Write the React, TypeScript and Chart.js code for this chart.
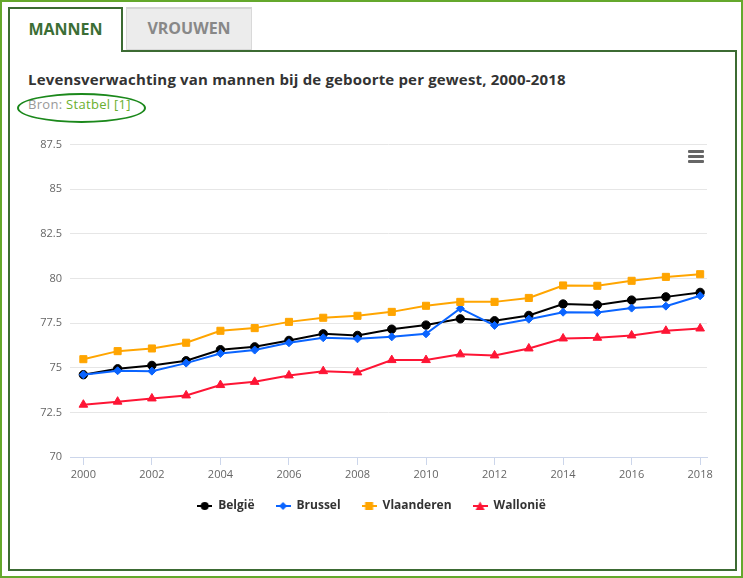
import React, { useEffect, useRef } from "react";
import { Chart, registerables } from "chart.js";

Chart.register(...registerables);

const years = [2000, 2001, 2002, 2003, 2004, 2005, 2006, 2007, 2008, 2009, 2010, 2011, 2012, 2013, 2014, 2015, 2016, 2017, 2018];
const xTickYears = [2000, 2002, 2004, 2006, 2008, 2010, 2012, 2014, 2016, 2018];
const belgie = [74.61, 74.94, 75.13, 75.39, 76.01, 76.17, 76.53, 76.9, 76.81, 77.16, 77.39, 77.74, 77.63, 77.93, 78.57, 78.52, 78.79, 78.97, 79.22];
const brussel = [74.61, 74.83, 74.81, 75.26, 75.8, 75.99, 76.4, 76.68, 76.62, 76.73, 76.9, 78.32, 77.37, 77.72, 78.11, 78.1, 78.34, 78.45, 79.03];
const vlaanderen = [75.48, 75.93, 76.08, 76.4, 77.07, 77.22, 77.57, 77.8, 77.91, 78.13, 78.47, 78.69, 78.69, 78.91, 79.61, 79.59, 79.87, 80.09, 80.24];
const wallonie = [72.93, 73.1, 73.28, 73.45, 74.03, 74.21, 74.57, 74.81, 74.74, 75.43, 75.43, 75.75, 75.69, 76.08, 76.64, 76.68, 76.81, 77.07, 77.2];
const seriesNames = ["België", "Brussel", "Vlaanderen", "Wallonië"];
const seriesColors = ["#000000", "#0a64ff", "#ffa500", "#fe1535"];
const seriesStyles = ["circle", "rectRot", "rect", "triangle"];
const seriesRadius = [4.2, 4, 5, 5];

const DARK = "#3c6b33";
const FONT = "'Open Sans', sans-serif";

function makeIcon(color: string, style: string): HTMLCanvasElement {
  const c = document.createElement("canvas");
  c.width = 15;
  c.height = 12;
  const ctx = c.getContext("2d")!;
  ctx.strokeStyle = color;
  ctx.fillStyle = color;
  ctx.lineWidth = 2;
  ctx.beginPath();
  ctx.moveTo(0, 6);
  ctx.lineTo(15, 6);
  ctx.stroke();
  ctx.beginPath();
  if (style === "circle") {
    ctx.arc(7.5, 6, 4, 0, Math.PI * 2);
  } else if (style === "rectRot") {
    ctx.moveTo(7.5, 2);
    ctx.lineTo(11.5, 6);
    ctx.lineTo(7.5, 10);
    ctx.lineTo(3.5, 6);
    ctx.closePath();
  } else if (style === "rect") {
    ctx.rect(3.5, 2, 8, 8);
  } else {
    ctx.moveTo(7.5, 1.5);
    ctx.lineTo(12, 10);
    ctx.lineTo(3, 10);
    ctx.closePath();
  }
  ctx.fill();
  return c;
}

export default function App() {
  const ref = useRef<HTMLCanvasElement | null>(null);

  useEffect(() => {
    if (!ref.current) return;
    const values = [belgie, brussel, vlaanderen, wallonie];
    const icons = seriesColors.map((c, i) => makeIcon(c, seriesStyles[i]));
    const chart = new Chart(ref.current, {
      type: "line",
      data: {
        datasets: values.map((vals, i) => ({
          label: seriesNames[i],
          data: years.map((y, j) => ({ x: y, y: vals[j] })),
          borderColor: seriesColors[i],
          backgroundColor: seriesColors[i],
          pointBackgroundColor: seriesColors[i],
          pointBorderColor: seriesColors[i],
          pointBorderWidth: 1,
          pointStyle: seriesStyles[i] as any,
          pointRadius: seriesRadius[i],
          borderWidth: 2,
          tension: 0,
          fill: false,
          order: 3 - i,
        })),
      },
      options: {
        animation: false,
        responsive: false,
        layout: { padding: { top: 14, left: 0, right: 0, bottom: 0 } },
        plugins: {
          tooltip: { enabled: false },
          legend: {
            position: "bottom",
            maxHeight: 33,
            labels: {
              usePointStyle: true,
              pointStyleWidth: 15,
              padding: 21,
              color: "#333333",
              font: { family: FONT, size: 12, weight: "bold" },
              generateLabels: (ch: any) => {
                const base = Chart.defaults.plugins.legend.labels.generateLabels(ch);
                return base
                  .sort((a: any, b: any) => a.datasetIndex - b.datasetIndex)
                  .map((l: any) => ({ ...l, pointStyle: icons[l.datasetIndex], lineWidth: 0 }));
              },
            },
          },
        },
        scales: {
          x: {
            type: "linear",
            min: 1999.61,
            max: 2018.2,
            afterBuildTicks: (s: any) => {
              s.ticks = xTickYears.map((v) => ({ value: v }));
            },
            afterFit: (s: any) => {
              s.height = 22;
              s.paddingRight = 36;
            },
            ticks: {
              autoSkip: false,
              maxRotation: 0,
              padding: 3,
              color: "#666666",
              font: { family: FONT, size: 11 },
              callback: (v: any) => String(v),
            },
            grid: {
              display: true,
              drawOnChartArea: false,
              drawTicks: true,
              tickLength: 8,
              color: "#ccd6eb",
              lineWidth: 1,
            },
            border: { display: true, color: "#ccd6eb", width: 1 },
          },
          y: {
            min: 70,
            max: 87.5,
            afterFit: (s: any) => {
              s.width = 70;
            },
            ticks: {
              stepSize: 2.5,
              padding: 8,
              color: "#666666",
              font: { family: FONT, size: 11 },
              callback: (v: any) => String(v),
            },
            grid: { color: "#e6e6e6", drawTicks: false, lineWidth: 1 },
            border: { display: false },
          },
        },
      },
    });
    return () => chart.destroy();
  }, []);

  const abs = (s: React.CSSProperties): React.CSSProperties => ({ position: "absolute", boxSizing: "border-box", ...s });

  return (
    <div style={{ position: "fixed", left: 0, top: 0, width: 743, height: 578, background: "#fff", fontFamily: FONT }}>
      <div style={abs({ left: 0, top: 0, width: 743, height: 578, border: "2px solid #64a82c" })} />
      <div style={abs({ left: 8, top: 50, width: 729, height: 521, border: `2px solid ${DARK}` })} />
      <div
        style={abs({
          left: 8, top: 7, width: 115, height: 45, background: "#fff",
          borderTop: `2px solid ${DARK}`, borderLeft: `2px solid ${DARK}`, borderRight: `2px solid ${DARK}`,
          display: "flex", alignItems: "center", justifyContent: "center", paddingBottom: 3,
          color: "#3b6e35", fontWeight: 700, fontSize: 16,
        })}
      >
        MANNEN
      </div>
      <div
        style={abs({
          left: 126, top: 7, width: 126, height: 43, background: "#ececec",
          border: "1px solid #d9d9d9", borderTop: "2px solid #d4d4d4",
          display: "flex", alignItems: "center", justifyContent: "center", paddingBottom: 2,
          color: "#888888", fontWeight: 700, fontSize: 16,
        })}
      >
        VROUWEN
      </div>
      <div style={abs({ left: 28, top: 69, fontSize: 15, letterSpacing: 0.17, fontWeight: 700, color: "#333", lineHeight: "20px", whiteSpace: "nowrap" })}>
        Levensverwachting van mannen bij de geboorte per gewest, 2000-2018
      </div>
      <div style={abs({ left: 28, top: 95, fontSize: 13, letterSpacing: 0.3, color: "#999", lineHeight: "18px", whiteSpace: "nowrap" })}>
        Bron: <span style={{ color: "#6aaf2e" }}>Statbel [1]</span>
      </div>
      <div style={abs({ left: 17, top: 93, width: 129, height: 30, border: "2px solid #1b881b", borderRadius: "50%" })} />
      <canvas ref={ref} width={743} height={382} style={{ position: "absolute", left: 0, top: 130, width: 743, height: 382 }} />
      <div style={abs({ left: 688, top: 150, width: 16, height: 3, background: "#666", borderRadius: 1 })} />
      <div style={abs({ left: 688, top: 155, width: 16, height: 3, background: "#666", borderRadius: 1 })} />
      <div style={abs({ left: 688, top: 160, width: 16, height: 3, background: "#666", borderRadius: 1 })} />
    </div>
  );
}
